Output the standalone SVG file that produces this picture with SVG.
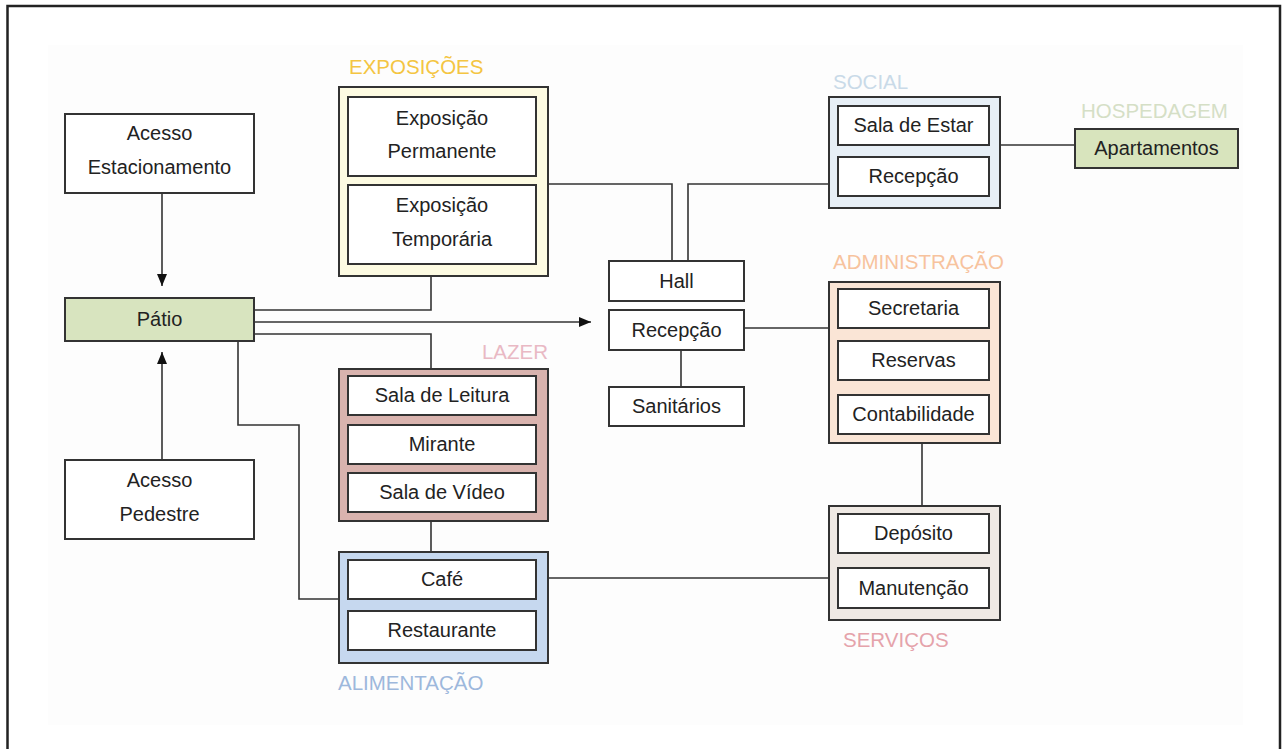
<svg xmlns="http://www.w3.org/2000/svg" width="1282" height="749" viewBox="0 0 1282 749">
<defs>
<style>
.box{fill:#ffffff;stroke:#333333;stroke-width:2}
.grp{stroke:#333333;stroke-width:2}
.t{font-family:"Liberation Sans",Arial,sans-serif;font-size:20px;fill:#222222;text-anchor:middle}
.lbl{font-family:"Liberation Sans",Arial,sans-serif;font-size:20.5px}
.c{fill:none;stroke:#333333;stroke-width:1.6}
</style>
<marker id="ah" viewBox="0 0 12 10" refX="12" refY="5" markerWidth="12" markerHeight="10" markerUnits="userSpaceOnUse" orient="auto">
<path d="M0,0 L12,5 L0,10 Z" fill="#111111"/>
</marker>
</defs>
<rect x="0" y="0" width="1282" height="749" fill="#ffffff"/>
<rect x="48" y="45" width="1195" height="680" fill="#fdfdfd"/>
<path d="M7.5,760 L7.5,6 L1280,6 L1280,760" fill="none" stroke="#222222" stroke-width="2.5"/>

<g id="connectors">
<path class="c" d="M162,193 L162,286" marker-end="url(#ah)"/>
<path class="c" d="M162,460 L162,352" marker-end="url(#ah)"/>
<path class="c" d="M254,310 L431,310 L431,276"/>
<path class="c" d="M254,322 L591,322" marker-end="url(#ah)"/>
<path class="c" d="M254,334 L431,334 L431,369"/>
<path class="c" d="M238,341 L238,425 L299,425 L299,599 L339,599"/>
<path class="c" d="M548,184 L672,184 L672,261"/>
<path class="c" d="M688,261 L688,184 L829,184"/>
<path class="c" d="M744,328 L829,328"/>
<path class="c" d="M681,350 L681,387"/>
<path class="c" d="M1000,145 L1075,145"/>
<path class="c" d="M922,443 L922,506"/>
<path class="c" d="M431,521 L431,552"/>
<path class="c" d="M548,578 L829,578"/>
</g>

<g id="acesso-estacionamento">
<rect class="box" x="65" y="114" width="189" height="79"/>
<text class="t" x="159.5" y="140">Acesso</text>
<text class="t" x="159.5" y="174">Estacionamento</text>
</g>

<g id="patio">
<rect class="box" x="65" y="298" width="189" height="43" style="fill:#d8e4bf"/>
<text class="t" x="159.5" y="326">Pátio</text>
</g>

<g id="acesso-pedestre">
<rect class="box" x="65" y="460" width="189" height="79"/>
<text class="t" x="159.5" y="487">Acesso</text>
<text class="t" x="159.5" y="521">Pedestre</text>
</g>

<g id="exposicoes">
<text class="lbl" x="349" y="74" fill="#f4c542">EXPOSIÇÕES</text>
<rect class="grp" x="339" y="87" width="209" height="189" fill="#fdfbe2"/>
<rect class="box" x="348" y="97" width="188" height="79"/>
<text class="t" x="442" y="125">Exposição</text>
<text class="t" x="442" y="158">Permanente</text>
<rect class="box" x="348" y="185" width="188" height="79"/>
<text class="t" x="442" y="212">Exposição</text>
<text class="t" x="442" y="246">Temporária</text>
</g>

<g id="lazer">
<text class="lbl" x="548" y="359" fill="#e9b9c4" text-anchor="end">LAZER</text>
<rect class="grp" x="339" y="369" width="209" height="152" fill="#d9b3ae"/>
<rect class="box" x="348" y="376" width="188" height="39"/>
<text class="t" x="442" y="402">Sala de Leitura</text>
<rect class="box" x="348" y="425" width="188" height="39"/>
<text class="t" x="442" y="451">Mirante</text>
<rect class="box" x="348" y="473" width="188" height="39"/>
<text class="t" x="442" y="499">Sala de Vídeo</text>
</g>

<g id="alimentacao">
<rect class="grp" x="339" y="552" width="209" height="111" fill="#c6d8ef"/>
<rect class="box" x="348" y="560" width="188" height="39"/>
<text class="t" x="442" y="586">Café</text>
<rect class="box" x="348" y="611" width="188" height="39"/>
<text class="t" x="442" y="637">Restaurante</text>
<text class="lbl" x="338" y="690" fill="#9db8dc">ALIMENTAÇÃO</text>
</g>

<g id="hall">
<rect class="box" x="609" y="261" width="135" height="40"/>
<text class="t" x="676.5" y="288">Hall</text>
</g>

<g id="recepcao">
<rect class="box" x="609" y="310" width="135" height="40"/>
<text class="t" x="676.5" y="337">Recepção</text>
</g>

<g id="sanitarios">
<rect class="box" x="609" y="387" width="135" height="39"/>
<text class="t" x="676.5" y="413">Sanitários</text>
</g>

<g id="social">
<text class="lbl" x="833" y="89" fill="#c9dae8">SOCIAL</text>
<rect class="grp" x="829" y="97" width="171" height="111" fill="#e7eff6"/>
<rect class="box" x="838" y="106" width="151" height="39"/>
<text class="t" x="913.5" y="132">Sala de Estar</text>
<rect class="box" x="838" y="157" width="151" height="39"/>
<text class="t" x="913.5" y="183">Recepção</text>
</g>

<g id="hospedagem">
<text class="lbl" x="1081" y="118" fill="#d5dfc6">HOSPEDAGEM</text>
<rect class="box" x="1075" y="129" width="163" height="39" style="fill:#d8e4bd"/>
<text class="t" x="1156.5" y="155">Apartamentos</text>
</g>

<g id="administracao">
<text class="lbl" x="833" y="269" fill="#f7c39e">ADMINISTRAÇÃO</text>
<rect class="grp" x="829" y="282" width="171" height="161" fill="#fae5d6"/>
<rect class="box" x="838" y="289" width="151" height="39"/>
<text class="t" x="913.5" y="315">Secretaria</text>
<rect class="box" x="838" y="341" width="151" height="39"/>
<text class="t" x="913.5" y="367">Reservas</text>
<rect class="box" x="838" y="395" width="151" height="39"/>
<text class="t" x="913.5" y="421">Contabilidade</text>
</g>

<g id="servicos">
<rect class="grp" x="829" y="506" width="171" height="114" fill="#efe9e4"/>
<rect class="box" x="838" y="514" width="151" height="39"/>
<text class="t" x="913.5" y="540">Depósito</text>
<rect class="box" x="838" y="568" width="151" height="40"/>
<text class="t" x="913.5" y="595">Manutenção</text>
<text class="lbl" x="843" y="647" fill="#e5a3ab">SERVIÇOS</text>
</g>
</svg>
